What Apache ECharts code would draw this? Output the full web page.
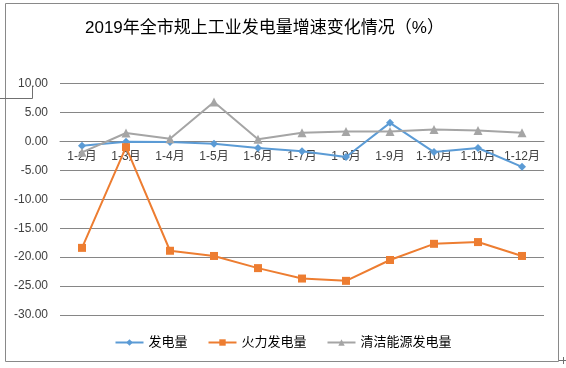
<!DOCTYPE html>
<html><head><meta charset="utf-8">
<script src="https://cdn.jsdelivr.net/npm/echarts@6/dist/echarts.min.js"></script>
<style>html,body{margin:0;padding:0;background:#fff}#c{width:566px;height:368px}</style>
</head><body><div id="c"></div>
<script>
const categories = ['1-2月','1-3月','1-4月','1-5月','1-6月','1-7月','1-8月','1-9月','1-10月','1-11月','1-12月'];
const totalPower = [-0.75, -0.05, -0.1, -0.4, -1.15, -1.7, -2.7, 3.2, -1.85, -1.15, -4.4];
const thermalPower = [-18.4, -1.0, -18.9, -19.8, -21.9, -23.7, -24.1, -20.5, -17.7, -17.4, -19.8];
const cleanPower = [-1.9, 1.45, 0.45, 6.8, 0.35, 1.5, 1.7, 1.7, 2.05, 1.9, 1.5];
const seriesNames = ['发电量','火力发电量','清洁能源发电量'];
const titleText = '2019年全市规上工业发电量增速变化情况（%）';

const font = 'Liberation Sans, "Noto Sans CJK SC", sans-serif';
const chart = echarts.init(document.getElementById('c'));
const mk = (name, data, color, symbol, size) => ({
  name, type: 'line', data, symbol, symbolSize: size,
  lineStyle: {color, width: 2}, itemStyle: {color},
  animation: false
});
chart.setOption({
  animation: false,
  title: {text: titleText, left: 80, top: 15,
    textStyle: {fontFamily: font, fontSize: 17, fontWeight: 'normal', color: '#000'}},
  grid: {left: 60, right: 22, top: 83.5, bottom: 53, containLabel: false},
  legend: {bottom: 14, left: 'center', itemWidth: 28, itemHeight: 8, itemGap: 20,
    textStyle: {fontFamily: font, fontSize: 13, color: '#000'},
    data: seriesNames},
  xAxis: {type: 'category', data: categories, boundaryGap: true,
    axisLine: {onZero: false, lineStyle: {color: '#868686', width: 1}},
    offset: -173.6,
    axisTick: {show: false},
    axisLabel: {margin: 9, fontFamily: font, fontSize: 12, color: '#404040', interval: 0}},
  yAxis: {type: 'value', min: -30, max: 10, interval: 5,
    axisLine: {show: false}, axisTick: {show: false},
    axisLabel: {margin: 12, fontFamily: font, fontSize: 12, color: '#404040',
      formatter: v => v.toFixed(2)},
    splitLine: {lineStyle: {color: '#868686', width: 1}}},
  series: [
    mk(seriesNames[0], totalPower, '#5B9BD5', 'diamond', 8),
    mk(seriesNames[1], thermalPower, '#ED7D31', 'rect', 8),
    mk(seriesNames[2], cleanPower, '#A5A5A5', 'triangle', 9)
  ],
  graphic: [
    {type: 'rect', shape: {x: 5.5, y: 3.5, width: 553, height: 358}, style: {fill: 'none', stroke: '#898989', lineWidth: 1}, silent: true, z: -1},
    {type: 'polyline', shape: {points: [[0, 98.5], [32.5, 98.5], [32.5, 86]]}, style: {fill: 'none', stroke: '#707070', lineWidth: 1}, silent: true},
    {type: 'polyline', shape: {points: [[559, 360.5], [566, 360.5]]}, style: {stroke: '#707070', lineWidth: 1}, silent: true},
    {type: 'polyline', shape: {points: [[563.5, 357], [563.5, 364]]}, style: {stroke: '#707070', lineWidth: 1}, silent: true}
  ]
});
</script></body></html>
